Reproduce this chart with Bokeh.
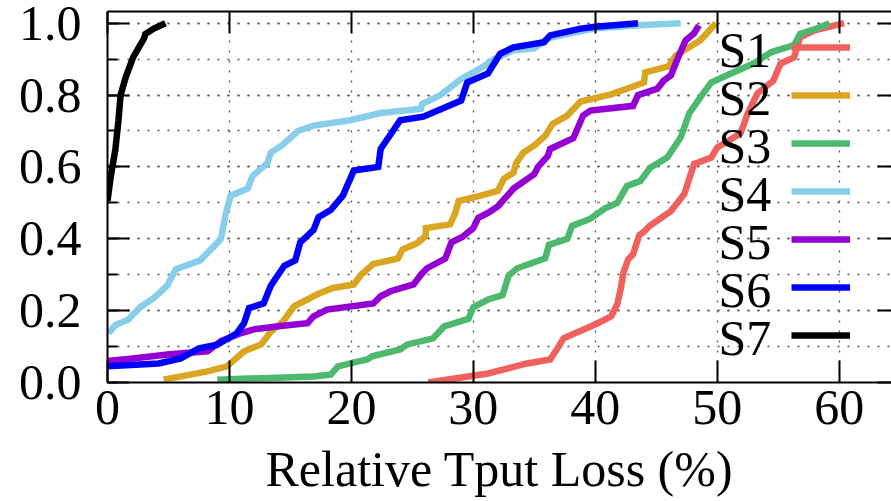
from bokeh.plotting import figure
from bokeh.models import (LinearAxis, Range1d, FixedTicker, SingleIntervalTicker,
                          NumeralTickFormatter, CustomJSTickFormatter, Legend, LegendItem, Label)
from bokeh.embed import file_html
from bokeh.resources import INLINE

FONT = "Liberation Serif"

series_names = ["S1", "S2", "S3", "S4", "S5", "S6", "S7"]
series_colors = ["#F0605D", "#DAA520", "#4DB96E", "#87CEEB", "#9400D3", "#0000FF", "#000000"]

s1_x = [26.3, 31.2, 34.4, 36.3, 36.9, 37.4, 40.2, 41.3, 41.8, 42.1, 42.3, 42.7, 43.1, 43.6, 44.0,
        44.5, 46.2, 47.3, 48.1, 49.5, 50.0, 51.9, 52.5, 53.3, 54.6, 55.2, 56.3, 56.8, 58.0, 60.4]
s1_y = [0.0, 0.025, 0.053, 0.064, 0.095, 0.123, 0.165, 0.184, 0.218, 0.263, 0.305, 0.343, 0.357, 0.41, 0.42,
        0.437, 0.477, 0.525, 0.608, 0.626, 0.654, 0.693, 0.749, 0.805, 0.84, 0.888, 0.905, 0.961, 0.98, 1.0]

s2_x = [4.6, 8.2, 9.8, 11.2, 12.6, 13.4, 14.4, 15.3, 17.3, 18.5, 20.2, 20.8, 21.8, 23.8, 24.2, 25.4,
        26.1, 26.1, 28.1, 28.5, 28.8, 30.6, 32.0, 32.5, 33.3, 33.5, 34.1, 35.0, 35.9, 36.5, 37.7, 38.8,
        41.3, 44.0, 44.1, 46.0, 46.6, 48.6, 49.9]
s2_y = [0.008, 0.031, 0.045, 0.087, 0.106, 0.142, 0.170, 0.212, 0.247, 0.263, 0.273, 0.30, 0.33, 0.345,
        0.37, 0.388, 0.408, 0.43, 0.44, 0.47, 0.505, 0.52, 0.533, 0.567, 0.584, 0.61, 0.64, 0.66, 0.687,
        0.72, 0.743, 0.782, 0.802, 0.835, 0.863, 0.88, 0.91, 0.952, 1.0]

s3_x = [9.0, 16.9, 18.3, 18.9, 19.9, 21.3, 21.7, 24.0, 24.6, 26.7, 27.6, 29.6, 30.0, 31.2, 32.4, 32.9,
        33.6, 35.9, 36.2, 37.7, 38.1, 39.6, 40.8, 41.8, 42.6, 43.7, 44.5, 45.9, 47.0, 47.7, 48.6, 49.5,
        50.8, 53.0, 54.4, 56.3, 56.8, 58.2, 59.2]
s3_y = [0.008, 0.017, 0.022, 0.045, 0.053, 0.064, 0.073, 0.092, 0.106, 0.123, 0.156, 0.177, 0.21, 0.231,
        0.243, 0.298, 0.318, 0.346, 0.383, 0.40, 0.436, 0.456, 0.485, 0.5, 0.547, 0.561, 0.598, 0.626,
        0.682, 0.749, 0.793, 0.835, 0.855, 0.888, 0.919, 0.939, 0.97, 0.986, 1.0]

s4_x = [0.1, 0.65, 1.7, 2.7, 3.8, 4.9, 5.6, 7.6, 8.9, 9.3, 9.7, 10.1, 11.5, 11.9, 13.1, 13.4, 14.3,
        15.3, 15.6, 16.9, 19.9, 22.4, 25.7, 25.8, 27.3, 29.0, 30.6, 31.7, 33.3, 35.0, 36.1, 37.2, 39.9,
        43.5, 47.0]
s4_y = [0.137, 0.16, 0.175, 0.21, 0.235, 0.27, 0.315, 0.34, 0.385, 0.40, 0.47, 0.52, 0.54, 0.575, 0.61,
        0.64, 0.66, 0.69, 0.70, 0.715, 0.73, 0.75, 0.762, 0.775, 0.80, 0.845, 0.875, 0.90, 0.925, 0.93,
        0.958, 0.966, 0.985, 0.994, 1.0]

s5_x = [0.0, 2.1, 4.9, 8.2, 9.3, 10.9, 12.0, 14.2, 16.4, 16.9, 18.0, 21.8, 22.4, 23.2, 25.1, 25.7, 26.2,
        27.7, 28.2, 29.1, 30.0, 30.4, 31.2, 32.0, 33.3, 35.0, 35.3, 36.1, 36.3, 38.2, 39.0, 39.6, 43.1,
        43.5, 45.1, 45.6, 46.2, 46.8, 47.4, 48.1, 48.5]
s5_y = [0.06, 0.067, 0.078, 0.087, 0.115, 0.137, 0.148, 0.157, 0.165, 0.184, 0.203, 0.22, 0.24, 0.254,
        0.273, 0.30, 0.318, 0.345, 0.39, 0.405, 0.43, 0.458, 0.472, 0.49, 0.54, 0.58, 0.60, 0.63, 0.65,
        0.68, 0.743, 0.757, 0.77, 0.80, 0.818, 0.84, 0.855, 0.905, 0.952, 0.972, 0.994]

s6_x = [0.0, 4.2, 6.0, 7.5, 9.0, 10.6, 11.2, 11.6, 12.8, 13.4, 14.5, 15.4, 15.8, 16.9, 17.3, 18.3, 19.3,
        20.2, 22.2, 22.4, 23.5, 24.0, 25.9, 29.0, 29.5, 31.2, 32.2, 33.3, 35.8, 36.3, 38.8, 40.0, 43.5]
s6_y = [0.045, 0.053, 0.067, 0.095, 0.105, 0.137, 0.165, 0.207, 0.22, 0.27, 0.325, 0.34, 0.39, 0.425,
        0.46, 0.48, 0.52, 0.59, 0.60, 0.65, 0.705, 0.73, 0.74, 0.785, 0.835, 0.86, 0.915, 0.933, 0.947,
        0.966, 0.985, 0.99, 1.0]

s7_x = [0.0, 0.25, 0.65, 0.9, 1.07, 1.5, 2.1, 3.0, 3.1, 3.8, 4.75]
s7_y = [0.505, 0.57, 0.65, 0.73, 0.80, 0.85, 0.905, 0.958, 0.97, 0.985, 1.0]

x_ticks = [0, 10, 20, 30, 40, 50, 60]
x_label = "Relative Tput Loss (%)"

series_x = [s1_x, s2_x, s3_x, s4_x, s5_x, s6_x, s7_x]
series_y = [s1_y, s2_y, s3_y, s4_y, s5_y, s6_y, s7_y]

p = figure(width=891, height=501, output_backend="svg", toolbar_location=None,
           x_range=Range1d(0, 64.29), y_range=Range1d(0, 1.0326),
           x_axis_location=None, y_axis_location=None,
           min_border_left=107, min_border_right=0, min_border_top=11, min_border_bottom=119)
p.outline_line_color = None
p.background_fill_color = "white"
p.border_fill_color = "white"

xt = FixedTicker(ticks=x_ticks)
yt = SingleIntervalTicker(interval=0.2, num_minor_ticks=2)
blank = CustomJSTickFormatter(code="return ''")


def style_axis(ax):
    ax.axis_line_width = 2
    ax.axis_line_color = "black"
    ax.major_tick_line_width = 2
    ax.minor_tick_line_width = 2
    ax.major_tick_out = 0
    ax.minor_tick_out = 0
    ax.major_label_text_font = FONT
    ax.major_label_text_color = "black"
    ax.major_label_text_font_size = "50px"


bottom = LinearAxis(ticker=xt, axis_label=x_label)
style_axis(bottom)
bottom.major_tick_in = 22
bottom.minor_tick_in = 0
bottom.major_label_standoff = 8
bottom.axis_label_text_font = FONT
bottom.axis_label_text_font_size = "50px"
bottom.axis_label_text_font_style = "normal"
bottom.axis_label_text_color = "black"
bottom.axis_label_standoff = 14
p.add_layout(bottom, "below")

top = LinearAxis(ticker=xt, formatter=blank)
style_axis(top)
top.major_label_standoff = 0
top.major_tick_in = 22
top.minor_tick_in = 0
p.add_layout(top, "above")

left = LinearAxis(ticker=yt, formatter=NumeralTickFormatter(format="0.0"))
style_axis(left)
left.major_tick_in = 22
left.minor_tick_in = 10
left.major_label_standoff = 26
p.add_layout(left, "left")

right = LinearAxis(ticker=yt, formatter=blank)
style_axis(right)
right.major_label_standoff = 0
right.axis_line_color = None
right.major_tick_in = 14
right.minor_tick_in = 0
p.add_layout(right, "right")

p.xgrid.ticker = xt
p.ygrid.ticker = yt
for g in (p.xgrid, p.ygrid):
    g.grid_line_color = "#555555"
    g.grid_line_width = 1.3
    g.grid_line_dash = "2 8"
p.ygrid.minor_grid_line_color = "#555555"
p.ygrid.minor_grid_line_width = 1.3
p.ygrid.minor_grid_line_dash = "2 8"

renderers = []
for xs, ys, c in zip(series_x, series_y, series_colors):
    r = p.line(xs, ys, line_color=c, line_width=6.5, line_join="miter")
    renderers.append(r)

legend = Legend(items=[LegendItem(label="", renderers=[r]) for r in renderers],
                location=(684, 23), glyph_width=59, glyph_height=48, label_width=0,
                label_height=0, label_standoff=0, spacing=0, padding=0, margin=0,
                label_text_font_size="10px", border_line_color=None,
                background_fill_alpha=0)
p.add_layout(legend, "center")

for k, name in enumerate(series_names):
    p.add_layout(Label(x=611, y=333 - 48.05 * k, x_units="screen", y_units="screen",
                       text=name, text_font=FONT, text_font_size="50px",
                       text_baseline="alphabetic", text_color="black"))

open("out.html", "w").write(file_html(p, INLINE))
